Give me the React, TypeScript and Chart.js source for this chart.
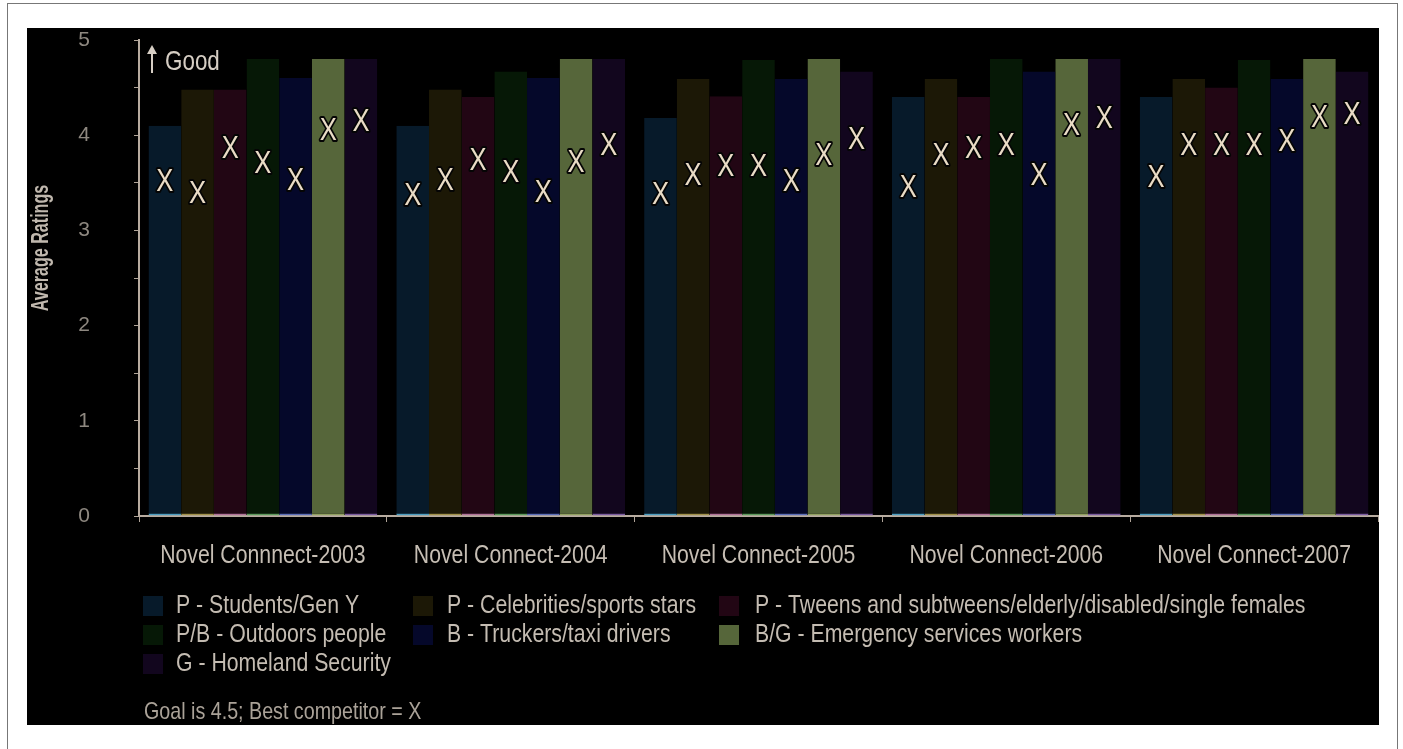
import React, { useEffect, useRef } from "react";
import { Chart, registerables } from "chart.js";

Chart.register(...registerables);

const categories = [
  "Novel Connnect-2003",
  "Novel Connect-2004",
  "Novel Connect-2005",
  "Novel Connect-2006",
  "Novel Connect-2007",
];

const seriesLabels = [
  "P - Students/Gen Y",
  "P - Celebrities/sports stars",
  "P - Tweens and subtweens/elderly/disabled/single females",
  "P/B - Outdoors people",
  "B - Truckers/taxi drivers",
  "B/G - Emergency services workers",
  "G - Homeland Security",
];

// Average ratings (bars)
const studentsRatings = [4.1, 4.1, 4.18, 4.4, 4.4];
const celebritiesRatings = [4.48, 4.48, 4.59, 4.59, 4.59];
const tweensRatings = [4.48, 4.4, 4.41, 4.4, 4.5];
const outdoorsRatings = [4.8, 4.67, 4.79, 4.8, 4.79];
const truckersRatings = [4.6, 4.6, 4.59, 4.67, 4.59];
const emergencyRatings = [4.8, 4.8, 4.8, 4.8, 4.8];
const homelandRatings = [4.8, 4.8, 4.67, 4.8, 4.67];

// Best competitor ratings (X marks)
const studentsCompetitor = [3.53, 3.39, 3.4, 3.47, 3.58];
const celebritiesCompetitor = [3.41, 3.54, 3.6, 3.81, 3.91];
const tweensCompetitor = [3.88, 3.76, 3.69, 3.88, 3.91];
const outdoorsCompetitor = [3.72, 3.63, 3.69, 3.91, 3.91];
const truckersCompetitor = [3.55, 3.42, 3.53, 3.6, 3.95];
const emergencyCompetitor = [4.07, 3.73, 3.81, 4.12, 4.21];
const homelandCompetitor = [4.17, 3.91, 3.98, 4.2, 4.24];

const yTicks = [0, 1, 2, 3, 4, 5];
const yTitle = "Average Ratings";
const goodText = "Good";
const footnote = "Goal is 4.5; Best competitor = X";

const ratings = [
  studentsRatings,
  celebritiesRatings,
  tweensRatings,
  outdoorsRatings,
  truckersRatings,
  emergencyRatings,
  homelandRatings,
];
const competitors = [
  studentsCompetitor,
  celebritiesCompetitor,
  tweensCompetitor,
  outdoorsCompetitor,
  truckersCompetitor,
  emergencyCompetitor,
  homelandCompetitor,
];

const barColors = ["#071a2a", "#1c1806", "#220614", "#061806", "#05082a", "#56663a", "#12061e"];
const baseColors = ["#4a9cc0", "#a09048", "#b07098", "#5a9a5a", "#5a6cb8", "#90a060", "#7a5aa0"];

const FONT = '"Liberation Sans", Arial, sans-serif';

function drawText(
  ctx: CanvasRenderingContext2D,
  text: string,
  x: number,
  y: number,
  font: string,
  color: string,
  sx: number,
  align: CanvasTextAlign,
  rotate = 0
) {
  ctx.save();
  ctx.translate(x, y);
  if (rotate) ctx.rotate(rotate);
  ctx.scale(sx, 1);
  ctx.font = font;
  ctx.textAlign = align;
  ctx.textBaseline = "middle";
  ctx.fillStyle = color;
  ctx.fillText(text, 0, 0);
  ctx.restore();
}

const markerPlugin = {
  id: "competitorMarks",
  afterDatasetsDraw(chart: any) {
    const ctx = chart.ctx;
    const y = chart.scales.y;
    competitors.forEach((vals, d) => {
      const meta = chart.getDatasetMeta(d);
      vals.forEach((v, i) => {
        const bar = meta.data[i];
        if (!bar) return;
        const px = bar.x;
        const py = y.getPixelForValue(v);
        ctx.save();
        ctx.translate(px, py);
        ctx.scale(0.8, 1);
        ctx.font = `32px ${FONT}`;
        ctx.textAlign = "center";
        ctx.textBaseline = "alphabetic";
        ctx.lineJoin = "round";
        ctx.strokeStyle = "#050505";
        ctx.lineWidth = 4;
        ctx.strokeText("X", 0, 11.5);
        ctx.fillStyle = "#eadcc6";
        ctx.fillText("X", 0, 11.5);
        ctx.restore();
      });
    });
  },
};

const annotationPlugin = {
  id: "extraText",
  afterDraw(chart: any) {
    const ctx = chart.ctx;
    const area = chart.chartArea;
    const xs = chart.scales.x;
    const ys = chart.scales.y;

    // Category labels
    categories.forEach((c, i) => {
      drawText(ctx, c, xs.getPixelForValue(i), 528, `25px ${FONT}`, "#c6beb4", 0.85, "center");
    });

    // Y axis title
    drawText(ctx, yTitle, 15, 220, `bold 23px ${FONT}`, "#c0b8ae", 0.7, "center", -Math.PI / 2);

    // "Good" annotation with arrow
    const gy = ys.getPixelForValue(4.77);
    const ax = area.left + 13;
    ctx.save();
    ctx.strokeStyle = "#d6cec4";
    ctx.fillStyle = "#d6cec4";
    ctx.lineWidth = 2;
    ctx.beginPath();
    ctx.moveTo(ax, gy + 11);
    ctx.lineTo(ax, gy - 12);
    ctx.stroke();
    ctx.beginPath();
    ctx.moveTo(ax, gy - 17);
    ctx.lineTo(ax - 5, gy - 8);
    ctx.lineTo(ax + 5, gy - 8);
    ctx.closePath();
    ctx.fill();
    ctx.restore();
    drawText(ctx, goodText, area.left + 26, gy, `28px ${FONT}`, "#d6cec4", 0.8, "left");

    // Custom legend (3 columns)
    const colSwatch = [116, 386, 692];
    const colText = [149, 420, 728];
    const rowY = [578, 607, 636];
    seriesLabels.forEach((lbl, i) => {
      const r = Math.floor(i / 3);
      const c = i % 3;
      ctx.fillStyle = barColors[i];
      ctx.fillRect(colSwatch[c], rowY[r] - 10, 20, 20);
      drawText(ctx, lbl, colText[c], rowY[r], `25px ${FONT}`, "#c4bcb2", 0.85, "left");
    });

    // Footnote
    drawText(ctx, footnote, 117, 684, `24px ${FONT}`, "#aaa298", 0.82, "left");
  },
};

export default function App() {
  const canvasRef = useRef<HTMLCanvasElement | null>(null);

  useEffect(() => {
    if (!canvasRef.current) return;
    const chart = new Chart(canvasRef.current, {
      type: "bar",
      data: {
        labels: categories,
        datasets: ratings.map((vals, i) => ({
          label: seriesLabels[i],
          data: vals,
          backgroundColor: barColors[i],
          borderColor: baseColors[i],
          borderWidth: { top: 0, left: 0, right: 0, bottom: 2 },
          borderSkipped: false,
          categoryPercentage: 0.923,
          barPercentage: 1.0,
        })),
      },
      options: {
        animation: false,
        responsive: true,
        maintainAspectRatio: false,
        layout: { padding: { top: 12, right: 1, left: 0, bottom: 0 } },
        plugins: {
          legend: { display: false },
          tooltip: { enabled: false },
        },
        scales: {
          x: {
            grid: {
              display: true,
              drawOnChartArea: false,
              drawTicks: true,
              tickLength: 6,
              color: "#b0a498",
              offset: true,
            },
            border: { color: "#b8aca0", width: 2 },
            ticks: { display: false },
            afterFit(scale: any) {
              scale.height = 209;
              scale.paddingLeft = 0;
              scale.paddingRight = 0;
            },
          },
          y: {
            min: 0,
            max: 5,
            grid: {
              display: true,
              drawOnChartArea: false,
              drawTicks: true,
              tickLength: 5,
              color: "#b0a498",
            },
            border: { color: "#b8aca0", width: 2 },
            ticks: {
              stepSize: 0.5,
              autoSkip: false,
              color: "#8e8880",
              font: { family: FONT, size: 21 },
              padding: 44,
              callback: (v: any) => (yTicks.includes(Number(v)) ? String(v) : ""),
            },
            afterFit(scale: any) {
              scale.width = 112;
              scale.paddingTop = 0;
              scale.paddingBottom = 0;
            },
          },
        },
      },
      plugins: [markerPlugin, annotationPlugin],
    });
    return () => chart.destroy();
  }, []);

  return (
    <>
      <div
        style={{
          position: "absolute",
          left: 7,
          top: 3,
          width: 1391,
          height: 746,
          borderTop: "1px solid #777",
          borderLeft: "1px solid #777",
          borderRight: "1px solid #777",
          background: "#fff",
          boxSizing: "border-box",
        }}
      />
      <div
        style={{
          position: "absolute",
          left: 27,
          top: 28,
          width: 1352,
          height: 697,
          background: "#000",
        }}
      >
        <canvas ref={canvasRef} />
      </div>
    </>
  );
}
